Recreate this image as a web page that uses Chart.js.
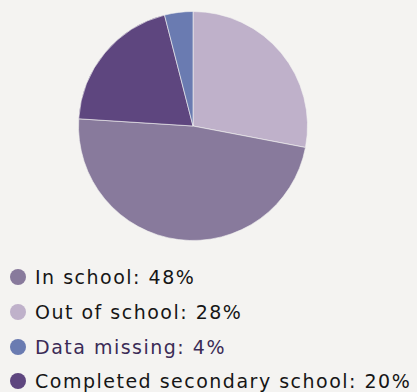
<!DOCTYPE html>
<html>
<head>
<meta charset="utf-8">
<script src="https://cdn.jsdelivr.net/npm/chart.js@4.4.2/dist/chart.umd.min.js"></script>
<style>
  html, body { margin: 0; padding: 0; background: #f4f3f1; }
  body { width: 417px; height: 392px; overflow: hidden; font-family: "DejaVu Sans", sans-serif; }
  #pie-wrap { position: relative; width: 417px; height: 260px; }
  #legend { list-style: none; margin: 0; padding: 0 0 0 10px; }
  #legend li { height: 34.7px; display: flex; align-items: center; font-size: 19px; letter-spacing: 1.5px; color: #161616; white-space: nowrap; }
  #legend .dot { width: 16px; height: 16px; border-radius: 50%; margin-right: 9px; flex: none; }
</style>
</head>
<body>
<div id="pie-wrap"><canvas id="chart-school"></canvas></div>
<ul id="legend"></ul>
<script>
// slices clockwise from 12 o'clock
const labels = ['Out of school', 'In school', 'Completed secondary school', 'Data missing'];
const shares = [28, 48, 20, 4];
const colors = ['#bfb1ca', '#887a9c', '#5e467f', '#6a7bb1'];

// legend order and text colours
const legendOrder = [1, 0, 3, 2];
const legendText = ['#161616', '#161616', '#3b2b56', '#161616'];

const chart = new Chart(document.getElementById('chart-school'), {
    type: 'pie',
    data: {
        labels,
        datasets: [{
            data: shares,
            backgroundColor: colors,
            borderColor: 'rgba(244,243,241,0.6)',
            borderWidth: 1
        }]
    },
    options: {
        responsive: true,
        maintainAspectRatio: false,
        animation: false,
        layout: { padding: { top: 11, bottom: 19, left: 0, right: 31 } },
        plugins: {
            legend: { display: false },
            tooltip: { enabled: false }
        }
    }
});

const ul = document.getElementById('legend');
legendOrder.forEach((i, n) => {
    const li = document.createElement('li');
    const dot = document.createElement('span');
    dot.className = 'dot';
    dot.style.background = chart.data.datasets[0].backgroundColor[i];
    const txt = document.createElement('span');
    txt.textContent = `${chart.data.labels[i]}: ${chart.data.datasets[0].data[i]}%`;
    txt.style.color = legendText[n];
    li.append(dot, txt);
    ul.append(li);
});
</script>
</body>
</html>
